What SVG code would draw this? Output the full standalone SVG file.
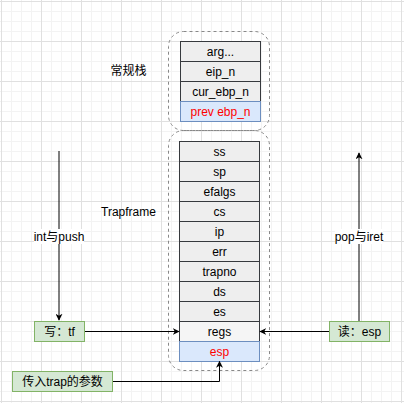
<svg xmlns="http://www.w3.org/2000/svg" width="404" height="403" viewBox="0 0 404 403">
<defs>
<pattern id="minor" width="10" height="10" patternUnits="userSpaceOnUse" x="1" y="1">
<path d="M0.5 0V10M0 0.5H10" stroke="#f3f3f3" stroke-width="1" fill="none"/>
</pattern>
<pattern id="major" width="40" height="40" patternUnits="userSpaceOnUse" x="1" y="1">
<path d="M0.5 0V40M0 0.5H40" stroke="#e0e0e0" stroke-width="1" fill="none"/>
</pattern>
<marker id="arr" viewBox="0 0 10 10" refX="9" refY="5" markerWidth="7" markerHeight="7" markerUnits="userSpaceOnUse" orient="auto">
<path d="M0 0L10 5L0 10L3 5Z" fill="#000"/>
</marker>
</defs>
<style>
text{font-family:"Liberation Sans",Arial,"Noto Sans CJK SC",sans-serif;font-size:12px;fill:#000;text-anchor:middle}
.cell{fill:#eeeeee;stroke:#36393d;stroke-width:1}
.light{fill:#f5f5f5;stroke:#36393d;stroke-width:1}
.blue{fill:#dae8fc;stroke:#6c8ebf;stroke-width:1}
.green{fill:#d5e8d4;stroke:#82b366;stroke-width:1}
.grp{fill:none;stroke:#888;stroke-width:1;stroke-dasharray:3 3}
.red{fill:#ff0000}
.ln{fill:none;stroke:#000;stroke-width:1}
.lbl{text-anchor:start}
</style>
<rect width="404" height="403" fill="#fff"/>
<rect width="404" height="403" fill="url(#minor)"/>
<rect width="404" height="403" fill="url(#major)"/>

<g id="groups">
<rect class="grp" x="168.5" y="31.5" width="101" height="99" rx="15"/>
<rect class="grp" x="168.5" y="130.5" width="101" height="240" rx="15"/>
</g>

<g id="normal-stack">
<g id="arg"><rect class="cell" x="180.5" y="41.5" width="80" height="20"/><text x="220.5" y="56">arg...</text></g>
<g id="eip_n"><rect class="cell" x="180.5" y="61.5" width="80" height="20"/><text x="220.5" y="76">eip_n</text></g>
<g id="cur_ebp_n"><rect class="cell" x="180.5" y="81.5" width="80" height="20"/><text x="220.5" y="96">cur_ebp_n</text></g>
<g id="prev_ebp_n"><rect class="blue" x="180.5" y="101.5" width="80" height="20"/><text class="red" x="220.5" y="116">prev ebp_n</text></g>
</g>

<g id="trapframe">
<g id="ss"><rect class="cell" x="179.5" y="141.5" width="80" height="20"/><text x="219.5" y="156">ss</text></g>
<g id="sp"><rect class="cell" x="179.5" y="161.5" width="80" height="20"/><text x="219.5" y="176">sp</text></g>
<g id="efalgs"><rect class="cell" x="179.5" y="181.5" width="80" height="20"/><text x="219.5" y="196">efalgs</text></g>
<g id="cs"><rect class="cell" x="179.5" y="201.5" width="80" height="20"/><text x="219.5" y="216">cs</text></g>
<g id="ip"><rect class="cell" x="179.5" y="221.5" width="80" height="20"/><text x="219.5" y="236">ip</text></g>
<g id="err"><rect class="cell" x="179.5" y="241.5" width="80" height="20"/><text x="219.5" y="256">err</text></g>
<g id="trapno"><rect class="cell" x="179.5" y="261.5" width="80" height="20"/><text x="219.5" y="276">trapno</text></g>
<g id="ds"><rect class="cell" x="179.5" y="281.5" width="80" height="20"/><text x="219.5" y="296">ds</text></g>
<g id="es"><rect class="cell" x="179.5" y="301.5" width="80" height="20"/><text x="219.5" y="316">es</text></g>
<g id="regs"><rect class="light" x="179.5" y="321.5" width="80" height="20"/><text x="219.5" y="336">regs</text></g>
<g id="esp"><rect class="blue" x="179.5" y="341.5" width="80" height="20"/><text class="red" x="219.5" y="356">esp</text></g>
</g>

<g id="labels">
<text x="128.5" y="75">常规栈</text>
<text x="128.5" y="216">Trapframe</text>
</g>

<g id="connectors">
<path class="ln" d="M59 151V320" marker-end="url(#arr)"/>
<path class="ln" d="M359 321V153" marker-end="url(#arr)"/>
<path class="ln" d="M84 331.5H179" marker-end="url(#arr)"/>
<path class="ln" d="M329 331.5H260" marker-end="url(#arr)"/>
<path class="ln" d="M112 381.5H219.5V361.5" marker-end="url(#arr)"/>
<rect x="34" y="229" width="50" height="15" fill="#fff"/>
<text x="59" y="241">int与push</text>
<rect x="335" y="229" width="48" height="15" fill="#fff"/>
<text x="359" y="241">pop与iret</text>
</g>

<g id="write-tf"><rect class="green" x="34.5" y="321.5" width="50" height="20"/><text x="59.5" y="336">写：tf</text></g>
<g id="read-esp"><rect class="green" x="329.5" y="321.5" width="60" height="20"/><text x="359.5" y="336">读：esp</text></g>
<g id="trap-arg"><rect class="green" x="12.5" y="371.5" width="100" height="20"/><text x="62.5" y="386">传入trap的参数</text></g>
</svg>
